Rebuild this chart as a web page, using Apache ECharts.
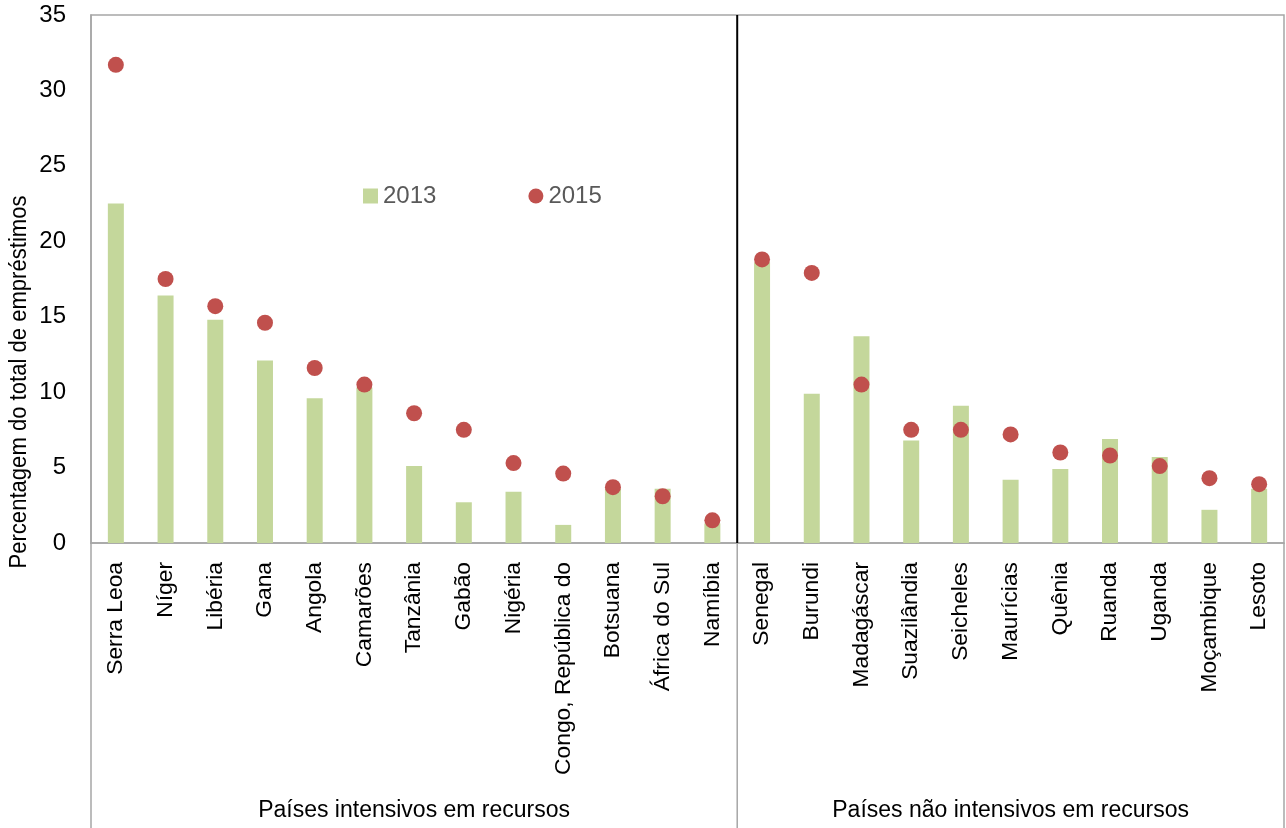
<!DOCTYPE html>
<html>
<head>
<meta charset="utf-8">
<script src="https://cdn.jsdelivr.net/npm/echarts@6/dist/echarts.min.js"></script>
<style>
  html, body { margin: 0; padding: 0; background: #ffffff; }
  #chart { width: 1286px; height: 828px; }
</style>
</head>
<body>
<div id="chart"></div>
<script>
// Countries, in plotting order (first group: resource-intensive, second: non-intensive)
const categories = [
  'Serra Leoa', 'Níger', 'Libéria', 'Gana', 'Angola', 'Camarões', 'Tanzânia',
  'Gabão', 'Nigéria', 'Congo, República do', 'Botsuana', 'África do Sul', 'Namíbia',
  'Senegal', 'Burundi', 'Madagáscar', 'Suazilândia', 'Seicheles', 'Maurícias',
  'Quênia', 'Ruanda', 'Uganda', 'Moçambique', 'Lesoto'
];
const groupNames = ['Países intensivos em recursos', 'Países não intensivos em recursos'];
const groupSizes = [13, 11];

const values2013 = [22.5, 16.4, 14.8, 12.1, 9.6, 10.3, 5.1, 2.7, 3.4, 1.2, 3.6, 3.6, 1.3,
                    18.6, 9.9, 13.7, 6.8, 9.1, 4.2, 4.9, 6.9, 5.7, 2.2, 3.6];
const values2015 = [31.7, 17.5, 15.7, 14.6, 11.6, 10.5, 8.6, 7.5, 5.3, 4.6, 3.7, 3.1, 1.5,
                    18.8, 17.9, 10.5, 7.5, 7.5, 7.2, 6.0, 5.8, 5.1, 4.3, 3.9];
const seriesNames = ['2013', '2015'];
const yAxisTitle = 'Percentagem do total de empréstimos';

const FONT = "'Liberation Sans', Arial, sans-serif";
const GRAY = '#a6a6a6';

const chart = echarts.init(document.getElementById('chart'), null, { renderer: 'canvas' });

chart.setOption({
  animation: false,
  textStyle: { fontFamily: FONT },
  grid: {
    left: 91, right: 2, top: 15, bottom: 285,
    show: true, borderColor: GRAY, borderWidth: 1.5, backgroundColor: 'transparent'
  },
  legend: {
    left: 363, top: 184, padding: 0,
    itemWidth: 15, itemHeight: 15, itemGap: 92, itemTextGap: 5,
    textStyle: { fontFamily: FONT, fontSize: 24, color: '#595959' },
    data: [
      { name: seriesNames[0], icon: 'rect' },
      { name: seriesNames[1], icon: 'circle' }
    ]
  },
  xAxis: {
    type: 'category',
    data: categories,
    axisLine: { lineStyle: { color: GRAY, width: 1.5 } },
    axisTick: { show: false },
    axisLabel: {
      rotate: 90, interval: 0, margin: 19,
      fontFamily: FONT, fontSize: 22.8, color: '#000000'
    },
    splitLine: { show: false }
  },
  yAxis: {
    type: 'value',
    min: 0, max: 35, interval: 5,
    axisLine: { show: true, lineStyle: { color: GRAY, width: 1.5 } },
    axisTick: { show: false },
    axisLabel: { margin: 25, fontFamily: FONT, fontSize: 24, color: '#000000' },
    splitLine: { show: false }
  },
  series: [
    {
      name: seriesNames[0],
      type: 'bar',
      data: values2013,
      barWidth: 16,
      itemStyle: { color: '#c4d79b' }
    },
    {
      name: seriesNames[1],
      type: 'scatter',
      data: values2015,
      symbol: 'circle',
      symbolSize: 16,
      itemStyle: { color: '#c0504d', opacity: 1 },
      z: 3
    }
  ]
});

// Group separators and group captions, placed from the category axis scale
function drawGroups() {
  const yTop = chart.convertToPixel({ yAxisIndex: 0 }, 35);
  const yBase = chart.convertToPixel({ yAxisIndex: 0 }, 0);
  const H = chart.getHeight();
  const firstC = chart.convertToPixel({ xAxisIndex: 0 }, categories[0]);
  const secondC = chart.convertToPixel({ xAxisIndex: 0 }, categories[1]);
  const step = secondC - firstC;
  const edges = [firstC - step / 2];
  let idx = 0;
  groupSizes.forEach(n => { idx += n; edges.push(firstC + step * (idx - 0.5)); });

  const elements = [];
  edges.forEach((x, i) => {
    elements.push({
      type: 'line', silent: true,
      shape: { x1: x, y1: yBase, x2: x, y2: H },
      style: { stroke: GRAY, lineWidth: 1.5 }
    });
    if (i > 0 && i < edges.length - 1) {
      elements.push({
        type: 'line', silent: true, z: 10,
        shape: { x1: x, y1: yTop, x2: x, y2: yBase },
        style: { stroke: '#000000', lineWidth: 2 }
      });
    }
  });
  groupNames.forEach((name, i) => {
    elements.push({
      type: 'text', silent: true,
      x: (edges[i] + edges[i + 1]) / 2, y: 811,
      style: {
        text: name, fontFamily: FONT, fontSize: 23, fill: '#000000',
        align: 'center', verticalAlign: 'middle'
      }
    });
  });
  elements.push({
    type: 'text', silent: true,
    x: 20, y: 382, rotation: Math.PI / 2, scaleX: 0.96,
    style: {
      text: yAxisTitle, fontFamily: FONT, fontSize: 23, fill: '#000000',
      align: 'center', verticalAlign: 'middle'
    }
  });
  chart.setOption({ graphic: elements });
}
drawGroups();
</script>
</body>
</html>
